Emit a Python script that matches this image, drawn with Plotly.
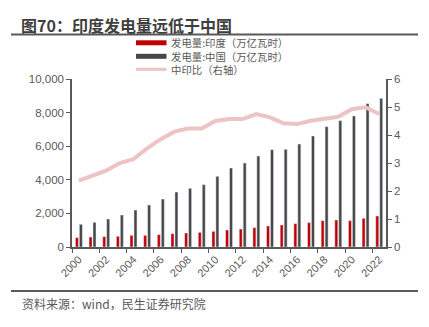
import plotly.graph_objects as go

# Annual electricity generation (TWh, i.e. 万亿瓦时) and China/India ratio
years = list(range(2000, 2023))
india_gen = [556, 595, 615, 635, 694, 694, 734, 794, 833, 873, 933, 1012,
             1071, 1151, 1250, 1310, 1389, 1448, 1567, 1607, 1567, 1706, 1845]
china_gen = [1349, 1468, 1667, 1905, 2202, 2500, 2857, 3274, 3492, 3710, 4206, 4702,
             5000, 5417, 5794, 5813, 6131, 6607, 7163, 7520, 7798, 8532, 8849]
ratio = [2.37, 2.54, 2.73, 3.00, 3.14, 3.52, 3.85, 4.12, 4.23, 4.23, 4.50, 4.57,
         4.57, 4.75, 4.63, 4.42, 4.39, 4.51, 4.57, 4.65, 4.92, 4.99, 4.75]
x_ticks = list(range(2000, 2023, 2))

name_india = "发电量:印度（万亿瓦时）"
name_china = "发电量:中国（万亿瓦时）"
name_ratio = "中印比（右轴）"

RED = "#C00000"
DARK = "#474747"
PINK = "#EDC3C3"
GREY = "#595959"
FONT = "Liberation Sans, Noto Sans CJK SC, sans-serif"
CJK = "Noto Sans CJK SC, sans-serif"

# plot area in pixels: x 72..386, y 79..247
PL, PR, PT, PB = 72, 386, 79, 247
PW, PH = PR - PL, PB - PT


def px_x(x):
    return (x - PL) / PW


def px_y(y):
    return (PB - y) / PH


fig = go.Figure()
fig.add_trace(go.Bar(x=years, y=india_gen, name=name_india, marker_color=RED,
                     width=0.22, offset=-0.25, showlegend=False))
fig.add_trace(go.Bar(x=years, y=china_gen, name=name_china, marker_color=DARK,
                     width=0.22, offset=0.04, showlegend=False))
fig.add_trace(go.Scatter(x=years, y=ratio, name=name_ratio, yaxis="y2", mode="lines",
                         line=dict(color=PINK, width=4), showlegend=False))

fig.update_layout(
    width=429, height=327,
    margin=dict(l=PL, r=429 - PR, t=PT, b=327 - PB),
    paper_bgcolor="white", plot_bgcolor="white",
    barmode="overlay",
    font=dict(family=FONT, size=11, color=GREY),
    xaxis=dict(
        range=[1999.5, 2022.5], tickvals=x_ticks, ticktext=[str(v) for v in x_ticks],
        tickangle=-45, ticks="", showgrid=False, zeroline=False,
        showline=True, linecolor=GREY, linewidth=1.5,
        tickfont=dict(size=11, color=GREY, family=FONT),
        minor=dict(ticks="outside", ticklen=4, tickcolor=GREY, tickwidth=1,
                   tick0=1999.5, dtick=2, showgrid=False),
    ),
    yaxis=dict(
        range=[0, 10000], dtick=2000, tickformat=",", showgrid=False, zeroline=False,
        showline=True, linecolor=GREY, linewidth=1.5,
        ticks="outside", ticklen=4, tickcolor=GREY,
        tickfont=dict(size=11.5, color=GREY, family=FONT),
    ),
    yaxis2=dict(
        range=[0, 6], dtick=1, overlaying="y", side="right", anchor="x",
        showgrid=False, zeroline=False, showline=True, linecolor=GREY, linewidth=1.5,
        ticks="outside", ticklen=4, tickcolor=GREY,
        tickfont=dict(size=11.5, color=GREY, family=FONT),
    ),
)

# Title, header and footer rules, source note
fig.add_annotation(text="<b>图70：印度发电量远低于中国</b>", xref="paper", yref="paper",
                   x=px_x(20), y=px_y(24.5), xanchor="left", yanchor="middle",
                   showarrow=False, borderpad=0, font=dict(family=CJK, size=16, color="#3F3F3F"))
for yline in (34.5, 291):
    fig.add_shape(type="line", xref="paper", yref="paper",
                  x0=px_x(11), x1=px_x(418), y0=px_y(yline), y1=px_y(yline),
                  line=dict(color=GREY, width=1.8))
fig.add_annotation(text="资料来源：wind，民生证券研究院", xref="paper", yref="paper",
                   x=px_x(20), y=px_y(303), xanchor="left", yanchor="middle",
                   showarrow=False, font=dict(family=CJK, size=12, color=GREY))

# Legend: swatches plus one multi-line label block
row_gap = 13.5
row_mid = 56.3
rows = [row_mid - row_gap, row_mid, row_mid + row_gap]
fig.add_shape(type="rect", xref="paper", yref="paper", x0=px_x(136), x1=px_x(166.5),
              y0=px_y(rows[0] + 2.5), y1=px_y(rows[0] - 2.5), fillcolor=RED, line=dict(width=0))
fig.add_shape(type="rect", xref="paper", yref="paper", x0=px_x(136), x1=px_x(166.5),
              y0=px_y(rows[1] + 2.5), y1=px_y(rows[1] - 2.5), fillcolor=DARK, line=dict(width=0))
fig.add_shape(type="line", xref="paper", yref="paper", x0=px_x(136), x1=px_x(166.5),
              y0=px_y(rows[2] - 0.5), y1=px_y(rows[2] - 0.5), line=dict(color=PINK, width=3))
fig.add_annotation(text="<br>".join([name_india, name_china, name_ratio]),
                   xref="paper", yref="paper", x=px_x(170), y=px_y(row_mid),
                   xanchor="left", yanchor="middle", align="left", showarrow=False,
                   borderpad=0, font=dict(family=CJK, size=10.4, color=GREY))

fig.write_html("out.html")
